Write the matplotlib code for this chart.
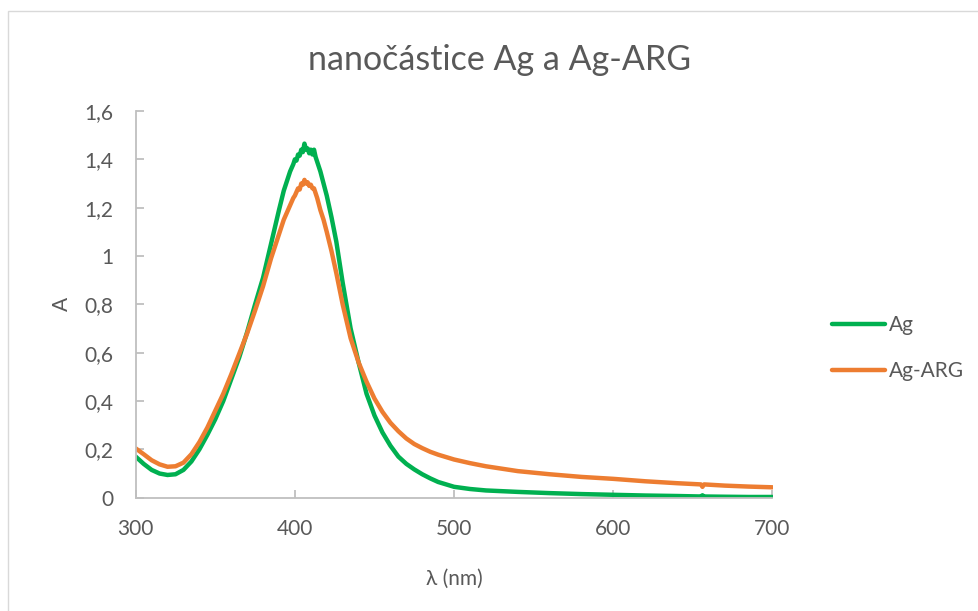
import matplotlib
matplotlib.use("Agg")
import matplotlib.pyplot as plt
from matplotlib.patches import Rectangle

plt.rcParams['font.family'] = ['Lato', 'DejaVu Sans']

# wavelength (nm)
wl = [300, 305, 310, 315, 320, 325, 330, 335, 340, 345, 350, 355, 360, 365, 370,
      375, 380, 385, 390, 393, 395, 397, 399, 400, 401, 402, 403, 404, 405, 406,
      407, 408, 409, 410, 411, 412, 413, 414, 416, 418, 420, 423, 426, 430, 435,
      440, 445, 450, 455, 460, 465, 470, 475, 480, 485, 490, 500, 510, 520, 540,
      560, 580, 600, 620, 640, 655, 656, 657, 670, 685, 700]

ag = [0.170, 0.140, 0.115, 0.100, 0.094, 0.097, 0.115, 0.150, 0.200, 0.260, 0.325,
      0.400, 0.490, 0.580, 0.685, 0.800, 0.910, 1.050, 1.190, 1.270, 1.310, 1.350,
      1.380, 1.400, 1.395, 1.420, 1.415, 1.440, 1.430, 1.465, 1.440, 1.445, 1.425,
      1.440, 1.420, 1.440, 1.410, 1.390, 1.350, 1.300, 1.250, 1.160, 1.060, 0.890,
      0.700, 0.560, 0.430, 0.340, 0.270, 0.215, 0.170, 0.140, 0.117, 0.097, 0.080,
      0.065, 0.045, 0.036, 0.030, 0.024, 0.019, 0.015, 0.012, 0.009, 0.007, 0.005,
      0.010, 0.005, 0.004, 0.003, 0.003]

ag_arg = [0.204, 0.180, 0.155, 0.138, 0.128, 0.130, 0.145, 0.180, 0.230, 0.290,
          0.360, 0.430, 0.510, 0.595, 0.680, 0.775, 0.875, 0.990, 1.090, 1.150,
          1.180, 1.210, 1.240, 1.250, 1.265, 1.280, 1.275, 1.300, 1.295, 1.315,
          1.300, 1.305, 1.290, 1.295, 1.280, 1.280, 1.260, 1.240, 1.190, 1.150,
          1.100, 1.020, 0.930, 0.800, 0.660, 0.560, 0.480, 0.410, 0.355, 0.310,
          0.275, 0.245, 0.222, 0.205, 0.190, 0.178, 0.158, 0.143, 0.130, 0.110,
          0.097, 0.086, 0.078, 0.068, 0.060, 0.055, 0.045, 0.055, 0.050, 0.046,
          0.043]

x_ticks = [300, 400, 500, 600, 700]
y_ticks = [0, 0.2, 0.4, 0.6, 0.8, 1.0, 1.2, 1.4, 1.6]
y_tick_labels = ['0', '0,2', '0,4', '0,6', '0,8', '1', '1,2', '1,4', '1,6']

W, H = 979, 611
fig = plt.figure(figsize=(W / 100, H / 100), dpi=100)
fig.patch.set_facecolor('white')

# chart area border (light gray)
fig.patches.append(Rectangle((8 / W, -0.1), 1.2, 1 - 11 / H + 0.1, transform=fig.transFigure,
                             fill=False, edgecolor='#D9D9D9', linewidth=1.0))

ax = fig.add_axes([135.7 / W, 1 - 497.7 / H, (772.5 - 135.7) / W, (497.7 - 111) / H])

text_color = '#595959'
green = '#00B050'
orange = '#ED7D31'
fs = 15

ax.plot(wl, ag, color=green, lw=3.2, label='Ag', solid_capstyle='round')
ax.plot(wl, ag_arg, color=orange, lw=3.2, label='Ag-ARG', solid_capstyle='round')

ax.set_xlim(300, 700)
ax.set_ylim(0, 1.6)
ax.set_xticks(x_ticks)
ax.set_xticklabels([str(t) for t in x_ticks])
ax.set_yticks(y_ticks)
ax.set_yticklabels(y_tick_labels)

for s in ['top', 'right']:
    ax.spines[s].set_visible(False)
for s in ['left', 'bottom']:
    ax.spines[s].set_color('#BFBFBF')
    ax.spines[s].set_linewidth(1.3)

ax.tick_params(axis='both', direction='in', length=6, width=1.3, color='#BFBFBF',
               labelcolor=text_color, labelsize=fs)
ax.tick_params(axis='x', pad=15)
ax.tick_params(axis='y', pad=16)

ax.set_xlabel('λ (nm)', fontsize=fs, color=text_color, labelpad=22)
ax.set_ylabel('A', fontsize=fs, color=text_color, labelpad=9)

fig.text(500 / W, 1 - 60 / H, 'nanočástice Ag a Ag-ARG', ha='center', va='center',
         fontsize=24.5, color=text_color)

leg = fig.legend(loc='center left', bbox_to_anchor=(832 / W, 1 - 348 / H), frameon=False,
                 fontsize=fs, handlelength=2.55, handletextpad=0.18, labelspacing=1.25,
                 borderpad=0, borderaxespad=0, labelcolor=text_color)

fig.savefig('out.png', dpi=100, facecolor='white')
